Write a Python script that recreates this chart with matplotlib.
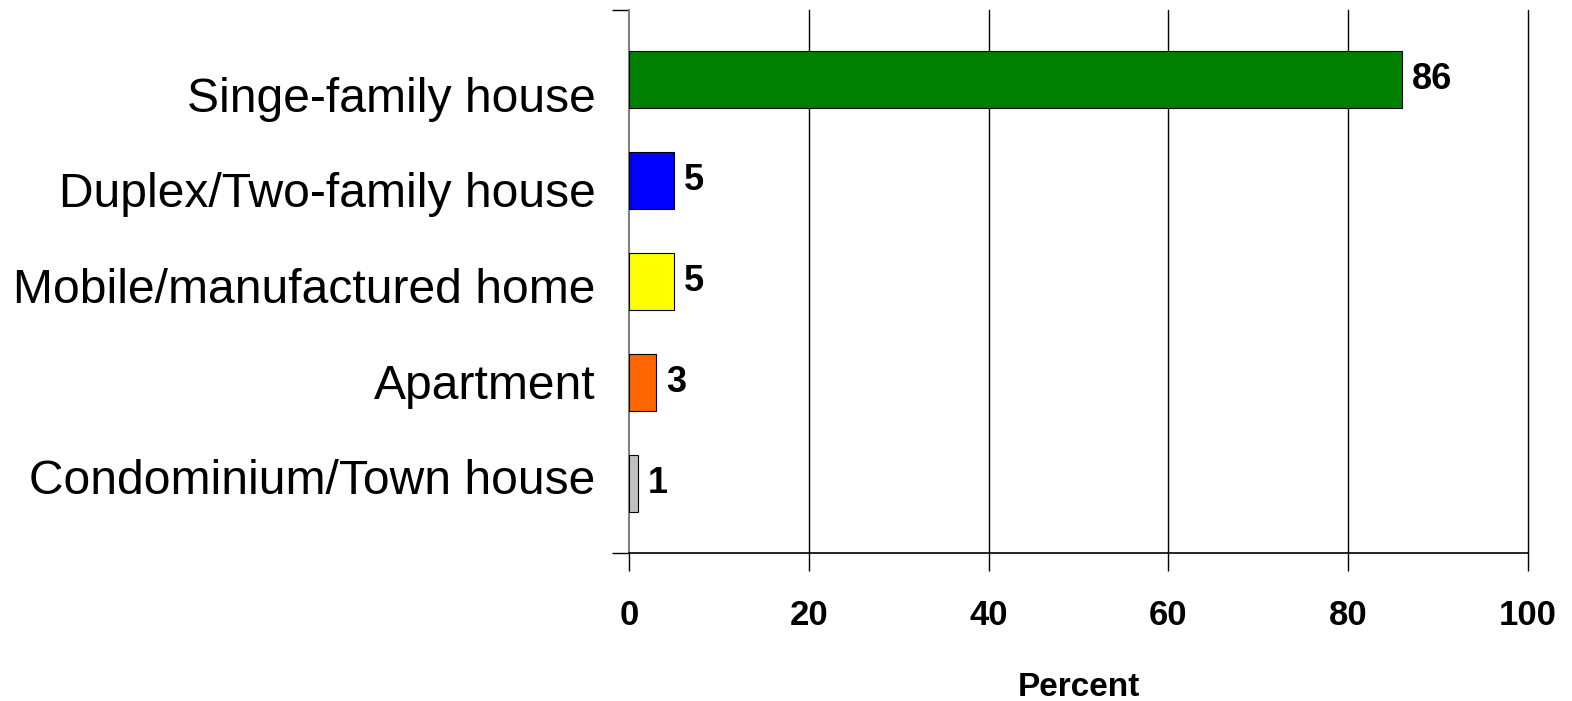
import matplotlib
matplotlib.use("Agg")
import matplotlib.pyplot as plt
from matplotlib.ticker import FixedLocator
from matplotlib.transforms import ScaledTranslation

categories = ["Singe-family house", "Duplex/Two-family house", "Mobile/manufactured home",
              "Apartment", "Condominium/Town house"]
values = [86, 5, 5, 3, 1]
colors = ["#008000", "#0000FF", "#FFFF00", "#FF6600", "#C0C0C0"]
xticks = [0, 20, 40, 60, 80, 100]

plt.rcParams['font.family'] = ['Liberation Sans', 'DejaVu Sans']

fig = plt.figure(figsize=(15.72, 7.01), dpi=100)
ax = fig.add_axes([629/1572, 1-553/701, (1528-629)/1572, (553-10)/701])

ypos = list(range(len(categories)))
ax.barh(ypos, values, height=0.56, color=colors, edgecolor="#000000", linewidth=0.8, zorder=3)
for y, v in zip(ypos, values):
    ax.text(v + 1.1, y, str(v), va="center", ha="left", fontsize=26, fontweight="bold", zorder=4)

ax.set_xlim(0, 100)
ax.set_ylim(4.69, -0.69)
ax.set_xticks(xticks)
ax.set_xticklabels([str(t) for t in xticks], fontsize=25, fontweight="bold")
ax.tick_params(axis="x", length=13, width=1, pad=20, direction="out")
ax.set_yticks(ypos)
ax.set_yticklabels(categories, fontsize=34.6)
ax.tick_params(axis="y", which="major", length=0, pad=24)
ax.yaxis.set_minor_locator(FixedLocator([4.69, -0.69]))
ax.tick_params(axis="y", which="minor", length=12, width=1, direction="out")

# category labels are spread slightly tighter than the bars in the original
label_nudge_px = [-14.5, -9.0, -4.0, 1.0, 6.5]
for lbl, dy in zip(ax.get_yticklabels(), label_nudge_px):
    lbl.set_transform(lbl.get_transform() + ScaledTranslation(0, dy / 100, fig.dpi_scale_trans))

for t in xticks[1:]:
    ax.axvline(t, color="black", linewidth=1, zorder=1, clip_on=False)

for s in ["top", "right"]:
    ax.spines[s].set_visible(False)
ax.spines["left"].set_color("#808080")
ax.spines["left"].set_linewidth(1.5)
ax.spines["bottom"].set_linewidth(1.2)

ax.set_xlabel("Percent", fontsize=24, fontweight="bold", labelpad=29)

fig.savefig("out.png", dpi=100)
